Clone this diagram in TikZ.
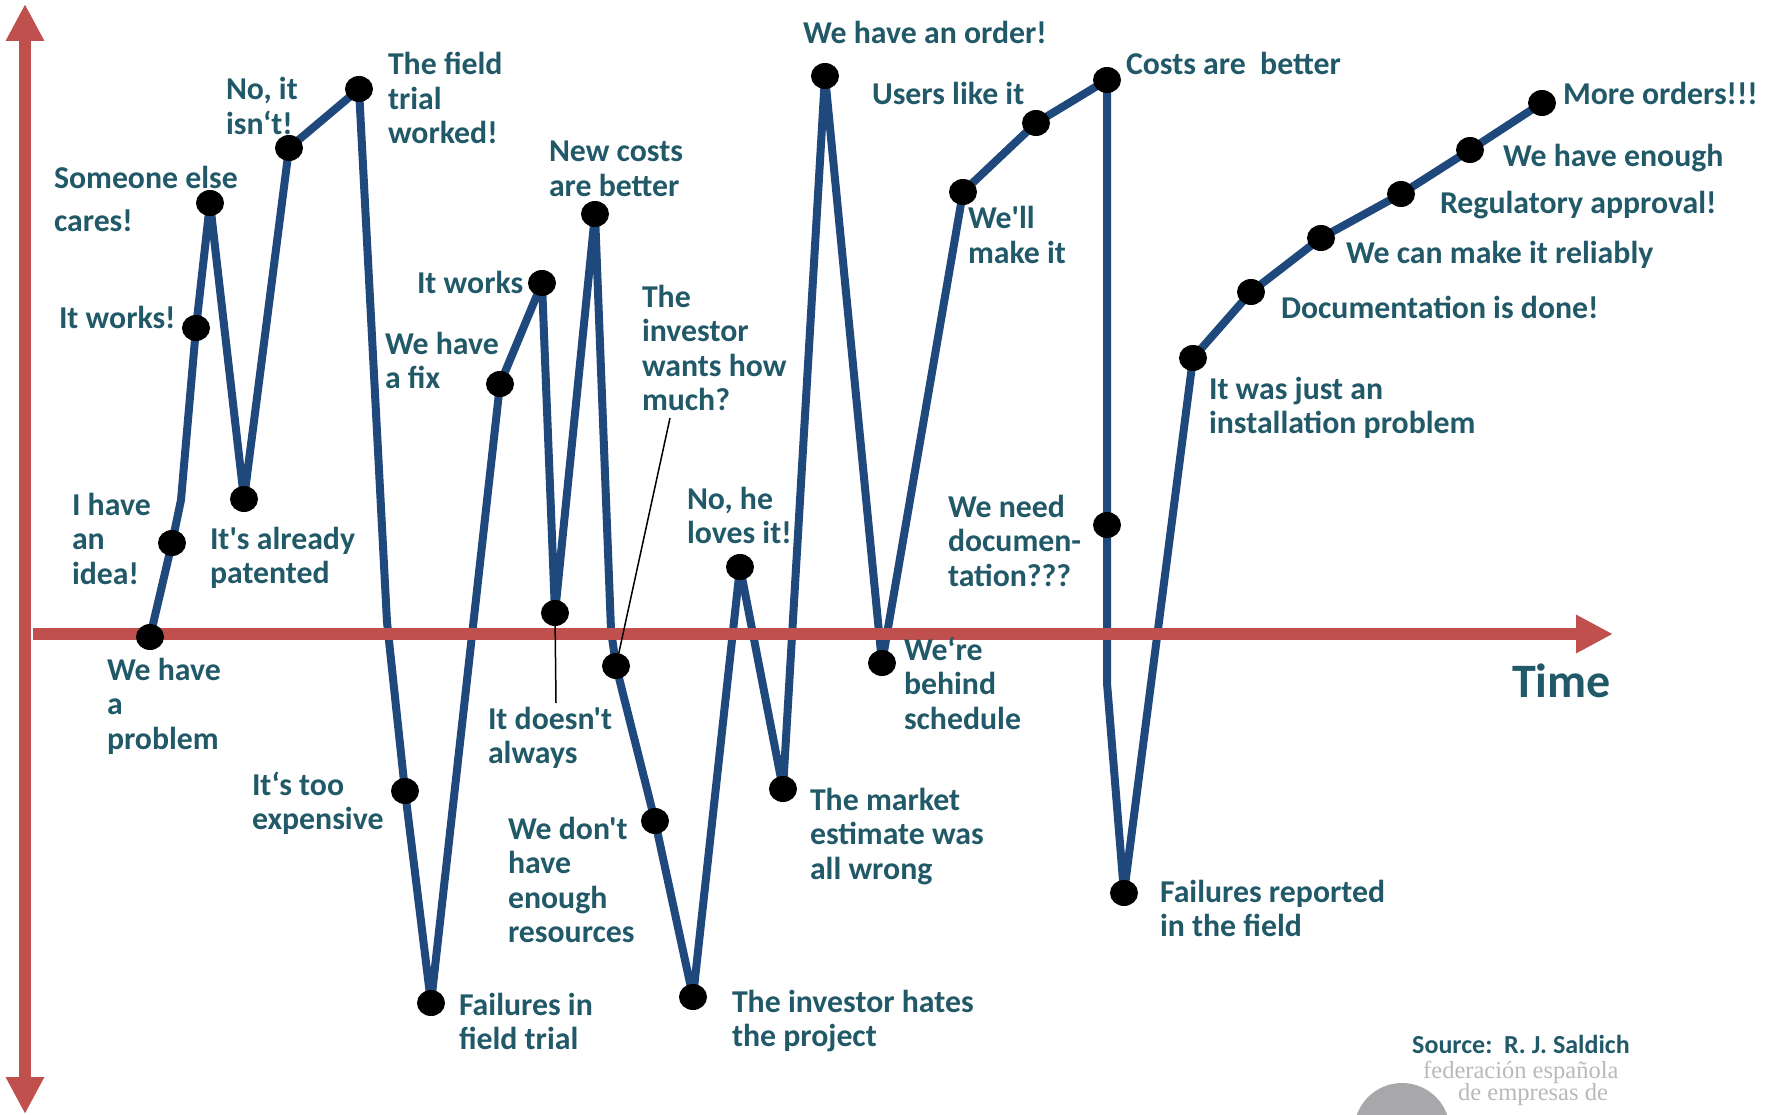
\documentclass[tikz,border=0pt]{standalone}
\usepackage{fontspec}
\newfontfamily\labfont{Carlito}
\newfontfamily\grayserif{Liberation Serif}
\usetikzlibrary{arrows.meta,backgrounds,shapes.geometric}
\definecolor{txt}{RGB}{33,89,104}
\definecolor{axisred}{RGB}{192,80,77}
\definecolor{curveblue}{RGB}{31,73,125}
\definecolor{logogray}{RGB}{168,168,170}
\definecolor{logotext}{RGB}{185,185,185}
\newcommand\fl{\rule{0pt}{27pt}}
\begin{document}
\begin{tikzpicture}[x=1pt,y=-1pt,
  lbl/.style={anchor=north west,inner sep=0pt,outer sep=0pt,align=left,text=txt,
    font=\labfont\bfseries\fontsize{31.8}{34.5}\selectfont},
  dot/.style={ellipse,fill=black,minimum width=28pt,minimum height=26pt,inner sep=0pt,outer sep=0pt},
  curve/.style={draw=curveblue,line width=8pt,line join=round},
  axis/.style={draw=axisred,fill=axisred,line width=12pt},
  leader/.style={draw=black,line width=1.5pt}]
\useasboundingbox (0,0) rectangle (1770,1115);
\begin{scope}
\clip (0,0) rectangle (1770,1115);
\fill[logogray] (1402,1131) circle (48pt);
\end{scope}
\node[anchor=base west,inner sep=0pt,text=logotext,font=\grayserif\fontsize{24.5}{28}\selectfont] (lg1) at (1423,1078) {federación española};
\node[anchor=base west,inner sep=0pt,text=logotext,font=\grayserif\fontsize{24.5}{28}\selectfont] (lg2) at (1458,1100) {de empresas de};
% axes
\coordinate (ybot) at (25,1114);
\coordinate (ytop) at (25,4);
\coordinate (xl) at (33,634);
\coordinate (xr) at (1613,634);
\draw[axis,{Triangle[length=37pt,width=36pt]}-{Triangle[length=37pt,width=36pt]}] (ybot) -- (ytop);
\draw[axis,-{Triangle[length=37pt,width=36pt]}] (xl) -- (xr);
% dots
\node[dot] (d1) at (150,637) {};
\node[dot] (d2) at (172,543) {};
\coordinate (b1) at (181,500);
\node[dot] (d3) at (196,328) {};
\node[dot] (d4) at (210,203) {};
\node[dot] (d5) at (244,499) {};
\node[dot] (d6) at (289,148) {};
\node[dot] (d7) at (359,89) {};
\coordinate (b2) at (387,622);
\node[dot] (d8) at (405,791) {};
\node[dot] (d9) at (431,1003) {};
\node[dot] (d10) at (500,384) {};
\node[dot] (d11) at (542,283) {};
\node[dot] (d12) at (555,613) {};
\node[dot] (d13) at (595,214) {};
\coordinate (b3) at (611,630);
\node[dot] (d14) at (616,666) {};
\node[dot] (d15) at (655,821) {};
\node[dot] (d16) at (693,997) {};
\node[dot] (d17) at (740,567) {};
\node[dot] (d18) at (783,789) {};
\node[dot] (d19) at (825,76) {};
\node[dot] (d20) at (882,663) {};
\node[dot] (d21) at (963,192) {};
\node[dot] (d22) at (1036,123) {};
\node[dot] (d23) at (1107,80) {};
\node[dot] (d24) at (1107,525) {};
\coordinate (b4) at (1107,683);
\node[dot] (d25) at (1124,893) {};
\node[dot] (d26) at (1193,358) {};
\node[dot] (d27) at (1251,292) {};
\node[dot] (d28) at (1321,238) {};
\node[dot] (d29) at (1401,194) {};
\node[dot] (d30) at (1470,150) {};
\node[dot] (d31) at (1542,103) {};
\begin{scope}[on background layer]
\draw[curve] (d1.center) -- (d2.center) -- (b1) -- (d3.center) -- (d4.center) -- (d5.center)
  -- (d6.center) -- (d7.center) -- (b2) -- (d8.center) -- (d9.center) -- (d10.center)
  -- (d11.center) -- (d12.center) -- (d13.center) -- (b3) -- (d14.center) -- (d15.center)
  -- (d16.center) -- (d17.center) -- (d18.center) -- (d19.center) -- (d20.center)
  -- (d21.center) -- (d22.center) -- (d23.center) -- (d24.center) -- (b4) -- (d25.center)
  -- (d26.center) -- (d27.center) -- (d28.center) -- (d29.center) -- (d30.center) -- (d31.center);
\end{scope}
% leaders
\coordinate (c12) at (556,703);
\coordinate (c14) at (670,418);
\draw[leader] (d12) -- (c12);
\draw[leader] (c14) -- (d14);
% labels
\node[lbl] (l1) at (107,653) {\fl We have\\a\\problem};
\node[lbl] (l2) at (72,488) {\fl I have\\an\\idea!};
\node[lbl] (l3) at (59,302) {\fl It works!};
\node[lbl] (l4) at (54,162) {\fl Someone else\\[8pt]cares!};
\node[lbl] (l5) at (210,522) {\fl It's already\\patented};
\node[lbl] (l6) at (226,73) {\fl No, it\\isn‘t!};
\node[lbl] (l7) at (388,48) {\fl The field\\trial\\worked!};
\node[lbl] (l8) at (252,768) {\fl It‘s too\\expensive};
\node[lbl] (l9) at (459,988) {\fl Failures in\\field trial};
\node[lbl] (l10) at (385,327) {\fl We have\\a fix};
\node[lbl] (l11) at (417,267) {\fl It works};
\node[lbl] (l12) at (488,702) {\fl It doesn't\\always};
\node[lbl] (l13) at (549,135) {\fl New costs\\are better};
\node[lbl] (l14) at (642,280) {\fl The\\investor\\wants how\\much?};
\node[lbl] (l15) at (508,812) {\fl We don't\\have\\enough\\resources};
\node[lbl] (l16) at (732,985) {\fl The investor hates\\the project};
\node[lbl] (l17) at (687,482) {\fl No, he\\loves it!};
\node[lbl] (l18) at (810,783) {\fl The market\\estimate was\\all wrong};
\node[lbl] (l19) at (803,17) {\fl We have an order!};
\node[lbl] (l20) at (904,633) {\fl We‘re\\behind\\schedule};
\node[lbl] (l21) at (968,202) {\fl We'll\\make it};
\node[lbl] (l22) at (872,78) {\fl Users like it};
\node[lbl] (l23) at (1126,48) {\fl Costs are\ \ better};
\node[lbl] (l24) at (948,490) {\fl We need\\documen-\\tation???};
\node[lbl] (l25) at (1160,875) {\fl Failures reported\\in the field};
\node[lbl] (l26) at (1209,372) {\fl It was just an\\installation problem};
\node[lbl] (l27) at (1281,292) {\fl Documentation is done!};
\node[lbl] (l28) at (1346,237) {\fl We can make it reliably};
\node[lbl] (l29) at (1440,187) {\fl Regulatory approval!};
\node[lbl] (l30) at (1503,140) {\fl We have enough};
\node[lbl] (l31) at (1563,78) {\fl More orders!!!};
\node[anchor=base west,inner sep=0pt,text=txt,font=\labfont\bfseries\fontsize{48}{56}\selectfont] (time) at (1512,697) {Time};
\node[anchor=base west,inner sep=0pt,text=txt,font=\labfont\bfseries\fontsize{26}{30}\selectfont] (src) at (1412,1053) {Source:\ \ R. J. Saldich};
\end{tikzpicture}
\end{document}
